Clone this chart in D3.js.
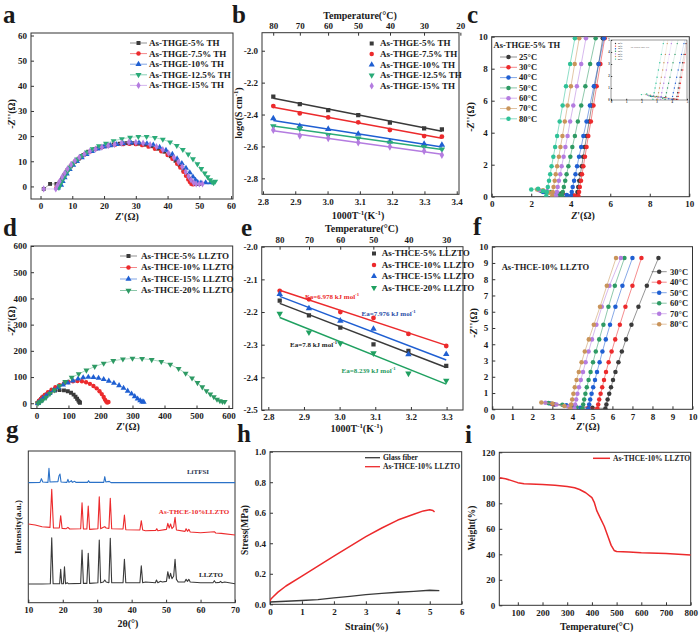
<!DOCTYPE html>
<html><head><meta charset="utf-8">
<script src="https://cdn.jsdelivr.net/npm/d3@7"></script>
<style>body{margin:0;background:#fff;}</style>
</head><body><svg id="chart" width="700" height="634"></svg>
<script>
const FONT='"Liberation Serif","Times New Roman","DejaVu Serif",serif';
const TXT='#1a1a1a';
// ---------- DATA ----------
// panel a
const aNames=['As-THGE-5% TH','As-THGE-7.5% TH','As-THGE-10% TH','As-THGE-12.5% TH','As-THGE-15% TH'];
const a5=[[1,-1],[3,1],[5,1],[5.5,0],[6,1.5],[6.8,3],[7.5,4.5],[8.5,6.5],[9.5,8],[10.8,9.8],[12,11],[13.5,12.5],[15,13.8],[17,14.8],[19,15.5],[21,16.2],[23,16.7],[25,17],[27,17.2],[29,17.2],[31,17],[33,16.6],[35,16],[37,15],[39,13.8],[41,12],[42.5,10.2],[43.8,8.5],[45,6.5],[46,4.5],[46.8,3],[47.5,1.8],[48.2,1],[49,1],[50,1]];
const a75=[[5,-0.5],[5.5,0.5],[6.2,2],[7,3.5],[7.8,5],[8.7,6.8],[9.8,8.5],[11,10],[12.5,11.5],[14,12.8],[15.8,14],[17.5,15],[19.5,15.7],[21.5,16.3],[23.5,16.6],[26,16.8],[28,16.9],[30,16.8],[32,16.4],[34,15.8],[36,15],[38,14],[40,12.5],[41.5,11],[43,9],[44,7.5],[45,5.8],[45.8,4.2],[46.5,2.8],[47,1.8],[47.5,1],[48,0.8]];
const a10=[[5.5,-0.5],[6.5,0.5],[7,2],[7.6,3.5],[8.3,5],[9.2,6.8],[10.3,8.5],[11.5,10],[13,11.5],[14.5,12.8],[16.2,14],[18,15],[20,15.8],[22,16.3],[24,16.7],[26,17],[28.5,17.3],[31,17.3],[33.5,17],[35.5,16.5],[37.5,15.6],[39.5,14.4],[41.5,12.8],[43,11],[44.5,9.2],[45.8,7.3],[47,5.5],[48,3.8],[48.8,2.5],[49.5,1.6],[50.5,1.4],[52,1.5],[53.5,1.5]];
const a125=[[5.8,-0.5],[6.3,1],[6.9,2.5],[7.6,4],[8.4,5.8],[9.3,7.5],[10.4,9.2],[11.6,10.8],[13,12.2],[14.6,13.6],[16.4,14.9],[18.4,16.1],[20.6,17.1],[23,18.1],[25.6,18.9],[28.2,19.5],[30.8,19.8],[33.4,19.8],[36,19.4],[38.5,18.7],[40.8,17.6],[42.9,16.2],[44.8,14.6],[46.5,12.8],[48,10.9],[49.4,8.9],[50.6,7],[51.7,5.3],[52.6,3.8],[53.4,2.6],[54,1.8],[54.5,1.4],[55,2]];
const a15=[[1,-1],[4.8,-1],[5.3,0.5],[6,2],[6.8,3.7],[7.6,5.3],[8.5,7],[9.6,8.7],[10.8,10.2],[12.2,11.6],[13.8,12.8],[15.5,13.9],[17.3,14.8],[19.3,15.6],[21.3,16.2],[23.3,16.7],[25.5,17.2],[27.8,17.6],[30,17.5],[32.3,17.2],[34.5,16.6],[36.5,15.8],[38.5,14.6],[40.3,13.2],[42,11.5],[43.4,9.7],[44.6,7.8],[45.7,5.8],[46.6,4],[47.4,2.6],[48.2,1.5],[49,1],[50,1],[51,1]];
// panel b
const bTempTicks=[80,70,60,50,40,30,20];
const bInvT=[2.832,2.914,3.002,3.095,3.193,3.299,3.354];
const b5=[-2.288,-2.334,-2.372,-2.403,-2.451,-2.487,-2.493];
const b75=[-2.347,-2.393,-2.418,-2.449,-2.497,-2.535,-2.539];
const b10=[-2.424,-2.472,-2.491,-2.522,-2.570,-2.585,-2.591];
const b125=[-2.472,-2.487,-2.529,-2.549,-2.576,-2.602,-2.618];
const b15=[-2.497,-2.533,-2.549,-2.576,-2.602,-2.629,-2.654];
// panel c
const cNames=['25°C','30°C','40°C','50°C','60°C','70°C','80°C'];
const cY=[0.05,0.3,0.6,1.0,1.4,1.9,2.5,3.1,3.8,4.7,5.7,6.9,8.3,9.9];
const cX25=[4.31,4.34,4.38,4.43,4.49,4.55,4.63,4.71,4.81,4.93,5.06,5.22,5.41,5.62];
const cX30=[4.39,4.42,4.46,4.52,4.57,4.64,4.72,4.80,4.89,5.02,5.15,5.31,5.50,5.72];
const cX40=[4.01,4.05,4.10,4.17,4.24,4.32,4.42,4.53,4.64,4.80,4.97,5.17,5.41,5.68];
const cX50=[3.56,3.60,3.65,3.72,3.79,3.88,3.98,4.08,4.21,4.36,4.53,4.74,4.98,5.26];
const cX60=[3.26,3.30,3.34,3.40,3.47,3.54,3.64,3.73,3.84,3.97,4.13,4.31,4.53,4.77];
const cX70=[3.06,3.09,3.13,3.19,3.24,3.31,3.40,3.48,3.58,3.70,3.84,4.01,4.20,4.43];
const cX80=[2.76,2.79,2.84,2.90,2.96,3.03,3.12,3.21,3.31,3.44,3.59,3.76,3.97,4.21];
const cB25=[[2.7,0.3],[3.5,0.2],[4.1,0.08]];
const cB30=[[2.8,0.3],[3.6,0.2],[4.2,0.08]];
const cB40=[[2.6,0.3],[3.3,0.25],[3.8,0.1]];
const cB50=[[2.5,0.35],[3.0,0.3],[3.4,0.15]];
const cB60=[[2.4,0.4],[2.8,0.35],[3.1,0.2]];
const cB70=[[2.3,0.45],[2.6,0.4],[2.9,0.25]];
const cB80=[[2.0,0.45],[2.35,0.5],[2.6,0.35]];
// panel d
const dNames=['As-THCE-5% LLZTO','As-THCE-10% LLZTO','As-THCE-15% LLZTO','As-THCE-20% LLZTO'];
const d5=[[3,0],[8,8],[14,16],[22,25],[32,34],[44,42],[58,48],[72,50],[86,49],[98,46],[108,40],[116,33],[122,25],[127,17],[131,10],[134,5],[136,2]];
const d10=[[4,3],[10,12],[17,22],[26,32],[36,42],[47,52],[59,61],[72,69],[86,76],[100,81],[114,84],[128,85],[142,84],[155,80],[167,74],[178,66],[188,57],[197,46],[204,35],[210,24],[214,14],[218,7],[221,3],[225,5]];
const d15=[[5,0],[12,8],[20,18],[30,28],[41,38],[54,49],[68,60],[83,70],[98,78],[114,86],[130,93],[146,98],[162,100],[178,99],[194,96],[210,91],[226,85],[242,77],[258,68],[272,58],[285,47],[297,36],[307,26],[316,17],[324,10],[330,6],[335,5]];
const d20=[[5,0],[12,5],[20,12],[30,22],[42,36],[56,50],[72,66],[90,82],[110,98],[132,112],[156,126],[182,140],[210,152],[240,162],[270,168],[300,171],[330,170],[360,166],[390,159],[418,148],[444,132],[466,114],[486,96],[503,78],[518,62],[531,47],[543,35],[554,24],[564,15],[573,9],[581,6],[588,6]];
// panel e
const eTempTicks=[80,70,60,50,40,30];
const eInvT=[2.832,2.914,3.002,3.095,3.193,3.299];
const e5=[-2.165,-2.21,-2.248,-2.299,-2.319,-2.365];
const e10=[-2.135,-2.161,-2.2,-2.218,-2.267,-2.304];
const e15=[-2.145,-2.189,-2.227,-2.252,-2.33,-2.329];
const e20=[-2.205,-2.262,-2.296,-2.326,-2.388,-2.41];
const eEa=['6.978','7.976','7.8','8.239'];
// panel f
const fNames=['30°C','40°C','50°C','60°C','70°C','80°C'];
const fY=[0.05,0.3,0.6,0.95,1.35,1.8,2.3,2.9,3.55,4.3,5.2,6.3,7.6,9.3];
const fX30=[5.65,5.70,5.76,5.84,5.93,6.03,6.15,6.30,6.47,6.68,6.95,7.30,7.72,8.30];
const fX40=[5.25,5.29,5.34,5.41,5.49,5.58,5.68,5.81,5.96,6.14,6.37,6.65,7.00,7.45];
const fX50=[4.80,4.84,4.89,4.96,5.04,5.13,5.23,5.36,5.50,5.67,5.88,6.15,6.50,7.00];
const fX60=[4.50,4.54,4.59,4.65,4.72,4.81,4.91,5.03,5.17,5.34,5.55,5.80,6.12,6.60];
const fX70=[4.10,4.14,4.19,4.25,4.33,4.42,4.53,4.66,4.81,4.98,5.20,5.47,5.85,6.42];
const fX80=[3.90,3.94,3.99,4.05,4.12,4.21,4.32,4.46,4.62,4.82,5.07,5.38,5.72,6.18];
const fB30=[[3.1,0.3],[4.0,0.22],[5.0,0.1]];
const fB40=[[3.0,0.32],[3.9,0.22],[4.8,0.1]];
const fB50=[[2.9,0.35],[3.7,0.25],[4.4,0.1]];
const fB60=[[2.8,0.38],[3.5,0.28],[4.2,0.12]];
const fB70=[[2.65,0.4],[3.2,0.3],[3.8,0.15]];
const fB80=[[2.45,0.42],[3.0,0.35],[3.6,0.2]];
// panel g (2θ, intensity a.u.)
const gLLZTO=[[10,56],[14,56],[16.4,57],[16.8,195],[17.2,57],[19.1,57],[19.4,100],[19.7,57],[20.2,57],[20.5,108],[20.8,57],[21.3,60],[21.6,57],[25.2,58],[25.6,158],[26,58],[27,58],[27.4,148],[27.8,58],[30.2,60],[30.6,188],[31,60],[31.8,62],[32.2,68],[32.6,62],[33.4,60],[33.8,193],[34.2,60],[37.5,60],[37.9,130],[38.3,60],[42.4,60],[42.8,111],[43.2,60],[44,62],[46.9,60],[47.2,68],[47.6,60],[48.4,64],[48.9,62],[50.1,64],[50.5,93],[50.9,72],[51.3,88],[51.7,72],[52.2,80],[52.6,130],[53,70],[53.5,62],[55.4,62],[55.8,70],[56.2,64],[56.6,70],[57,62],[60,60],[63.6,60],[64,66],[64.4,60],[65.5,61],[65.8,64],[66.2,60],[67,62],[70,57]];
const gTHCE=[[10,236],[12,233],[14,228],[16.3,226],[16.8,340],[17.3,224],[19,224],[19.4,261],[19.8,223],[21,222],[21.5,226],[22,221],[25.2,222],[25.6,300],[26,221],[27,221],[27.4,290],[27.8,220],[30.2,222],[30.6,318],[31,222],[31.8,226],[32.2,228],[32.6,224],[33.4,223],[33.8,313],[34.2,222],[37.5,221],[37.9,263],[38.3,219],[42.4,218],[42.8,246],[43.2,218],[44,216],[47,217],[47.3,222],[47.6,216],[50.1,220],[50.5,238],[50.9,224],[51.3,236],[51.7,222],[52.2,228],[52.6,256],[53,218],[55.5,214],[55.8,222],[56.2,214],[56.6,220],[57,212],[60,210],[64,213],[64.4,209],[66,208],[70,203]];
const gLiTFSI=[[10,360],[13.4,361],[13.8,372],[14.2,362],[15.7,361],[16.0,403],[16.3,362],[18.6,363],[18.9,380],[19.2,386],[19.5,362],[21.2,361],[21.5,370],[21.8,361],[22.5,366],[22.8,361],[23.5,364],[23.8,361],[27.2,361],[27.5,366],[27.8,361],[31.9,361],[32.2,378],[32.5,362],[33.5,364],[34,360],[70,360]];
// panel h
const hGFx=[0,0.5,1,1.5,2,2.5,3,3.5,4,4.5,5,5.3];
const hGFy=[0.015,0.02,0.025,0.03,0.042,0.052,0.063,0.072,0.079,0.085,0.092,0.09];
const hTHx=[0,0.03,0.1,0.25,0.5,1,1.5,2,2.5,3,3.5,4,4.5,4.8,5,5.1,5.15];
const hTHy=[0.02,0.035,0.05,0.08,0.12,0.185,0.25,0.315,0.38,0.443,0.5,0.552,0.59,0.612,0.62,0.615,0.605];
// panel i
const iT=[25,50,75,100,125,150,200,250,300,330,350,375,400,410,420,435,450,465,478,490,500,550,600,700,800];
const iW=[100,99.2,97.8,96.2,95.4,95.1,94.7,94.2,93.2,92.2,90.8,88.3,84.5,80.5,74,68,62,54,47,43,42.2,41.8,41.2,40.6,39.5];

// ---------- COLORS ----------
const K='#3a3a3a',R='#ec2a2c',B='#1f5fd2',G='#2aab78',P='#b47ce0',TAN='#c9945a',TEAL='#2fc197',G2='#2e9a64';

// ---------- HELPERS ----------
const svg=d3.select('#chart');
let clipN=0;
const SYM={sq:d3.symbolSquare,ci:d3.symbolCircle,tu:d3.symbolTriangle,td:d3.symbolTriangle,di:d3.symbolDiamond};
const fmt=dec=>d=>(d<0?'-':'')+Math.abs(d).toFixed(dec);
function panel(o){
  const x=d3.scaleLinear().domain(o.xd).range([o.l,o.r]);
  const y=d3.scaleLinear().domain(o.yd).range([o.b,o.t]);
  const g=svg.append('g');
  const id='clip'+(clipN++);
  g.append('clipPath').attr('id',id).append('rect').attr('x',o.l).attr('y',o.t).attr('width',o.r-o.l).attr('height',o.b-o.t);
  if(o.bg) g.append('rect').attr('x',o.l).attr('y',o.t).attr('width',o.r-o.l).attr('height',o.b-o.t).attr('fill','#fff');
  const fs=o.fs||9, ts=o.ts||3, tp=o.tp||4;
  g.append('g').attr('transform',`translate(0,${o.b})`).call(d3.axisBottom(x).tickValues(o.xt).tickFormat(o.xf||(d=>d)).tickSizeInner(-ts).tickSizeOuter(0).tickPadding(tp));
  if(o.yt) g.append('g').attr('transform',`translate(${o.l},0)`).call(d3.axisLeft(y).tickValues(o.yt).tickFormat(o.yf||(d=>d)).tickSizeInner(-ts).tickSizeOuter(0).tickPadding(tp));
  if(o.top) g.append('g').attr('transform',`translate(0,${o.t})`).call(d3.axisTop(x).tickValues(o.top.map(t=>1000/(t+273.15))).tickFormat((d,i)=>o.top[i]).tickSizeInner(-ts).tickSizeOuter(0).tickPadding(tp));
  g.selectAll('.domain').remove();
  g.selectAll('.tick line').attr('stroke','#333');
  g.selectAll('.tick text').attr('font-size',fs).attr('font-weight','bold').attr('fill',TXT).attr('font-family',FONT);
  g.append('rect').attr('x',o.l).attr('y',o.t).attr('width',o.r-o.l).attr('height',o.b-o.t).attr('fill','none').attr('stroke','#333').attr('stroke-width',o.sw||1);
  const plot=g.append('g').attr('clip-path',`url(#${id})`);
  return {g,x,y,plot};
}
function text(sel,x,y,parts,o={}){
  const fs=o.fs||9;
  const t=sel.append('text').attr('x',x).attr('y',y).attr('font-size',fs).attr('font-weight',o.w||'bold')
    .attr('fill',o.c||TXT).attr('text-anchor',o.a||'start').attr('font-family',FONT);
  if(o.rot) t.attr('transform',`rotate(-90,${x},${y})`);
  let up=false;
  (typeof parts==='string'?[[parts]]:parts).forEach(p=>{
    const s=t.append('tspan').text(p[0]);
    if(p[1]==='i') s.attr('font-style','italic');
    if(p[1]==='sup'){s.attr('font-size',fs*0.68).attr('dy',-fs*0.38);up=true;}
    else if(up){s.attr('dy',fs*0.38);up=false;}
  });
  return t;
}
function sym(type,size){return d3.symbol(SYM[type],size)();}
function pts(p,data,type,color,size,lineOp,lw){
  if(lineOp) p.plot.append('path').datum(data).attr('d',d3.line().x(d=>p.x(d[0])).y(d=>p.y(d[1])))
    .attr('fill','none').attr('stroke',color).attr('stroke-width',lw||0.8).attr('stroke-opacity',lineOp);
  p.plot.selectAll(null).data(data).join('path').attr('d',sym(type,size))
    .attr('transform',d=>`translate(${p.x(d[0])},${p.y(d[1])})`+(type==='td'?' rotate(180)':'')).attr('fill',color);
}
function curve(p,data,color,lw){
  p.plot.append('path').datum(data).attr('d',d3.line().x(d=>p.x(d[0])).y(d=>p.y(d[1])))
    .attr('fill','none').attr('stroke',color).attr('stroke-width',lw||1.2).attr('stroke-linejoin','round');
}
function fitLine(p,xs,ys,color){
  const mx=d3.mean(xs),my=d3.mean(ys);
  const s=d3.sum(xs.map((v,i)=>(v-mx)*(ys[i]-my)))/d3.sum(xs.map(v=>(v-mx)*(v-mx)));
  const x0=d3.min(xs),x1=d3.max(xs);
  p.plot.append('line').attr('x1',p.x(x0)).attr('x2',p.x(x1)).attr('y1',p.y(my+s*(x0-mx))).attr('y2',p.y(my+s*(x1-mx)))
    .attr('stroke',color).attr('stroke-width',1.5);
}
function legend(g,items,o){
  items.forEach((it,i)=>{
    const yy=o.y0+i*o.dy;
    if(o.line) g.append('line').attr('x1',o.x0).attr('x2',o.x1).attr('y1',yy).attr('y2',yy).attr('stroke',it.c).attr('stroke-width',o.lw||0.8).attr('stroke-opacity',o.lo||0.7);
    if(it.t) g.append('path').attr('d',sym(it.t,o.ms||16)).attr('transform',`translate(${(o.x0+o.x1)/2},${yy})`+(it.t==='td'?' rotate(180)':'')).attr('fill',it.c);
    text(g,o.tx,yy+o.fs*0.33,it.label,{fs:o.fs});
  });
}
const zy=[['-'],['Z','i'],["''(Ω)"]], zx=[['Z','i'],["'(Ω)"]];
const invT=[['1000T'],['-1','sup'],['(K'],['-1','sup'],[')']];
function plabel(s,x,y){text(svg,x,y,s,{fs:25});}

// ---------- PANEL a ----------
{
  const p=panel({l:31,r:233,t:33,b:199,xd:[-3,60.6],yd:[-5,61],xt:d3.range(0,61,10),yt:d3.range(0,61,10)});
  const S=[[a5,'sq',K],[a75,'ci',R],[a10,'tu',B],[a125,'td',G],[a15,'di',P]];
  S.forEach(s=>pts(p,s[0],s[1],s[2],15,0.5));
  legend(p.g,S.map((s,i)=>({t:s[1],c:s[2],label:aNames[i]})),{x0:130,x1:147,tx:149,y0:43,dy:10.6,fs:9,ms:16,line:true});
  text(svg,14.5,114,zy,{fs:10,a:'middle',rot:true});
  text(svg,127,220,zx,{fs:10,a:'middle'});
  plabel('a',3,23);
}
// ---------- PANEL b ----------
{
  const p=panel({l:262,r:459,t:32.7,b:194.3,xd:[2.797,3.407],yd:[-2.9,-1.887],xt:[2.8,2.9,3.0,3.1,3.2,3.3,3.4],xf:fmt(1),yt:[-2.0,-2.2,-2.4,-2.6,-2.8],yf:fmt(1),top:bTempTicks});
  const S=[[b5,'sq',K],[b75,'ci',R],[b10,'tu',B],[b125,'td',G],[b15,'di',P]];
  S.forEach(s=>{fitLine(p,bInvT,s[0],s[2]);pts(p,bInvT.map((v,i)=>[v,s[0][i]]),s[1],s[2],18);});
  legend(p.g,S.map((s,i)=>({t:s[1],c:s[2],label:aNames[i]})),{x0:371.7,x1:371.7,tx:380,y0:43.5,dy:10.6,fs:9,ms:16});
  text(svg,360,19,'Temperature(°C)',{fs:10,a:'middle'});
  text(svg,358,219,invT,{fs:10,a:'middle'});
  text(svg,241.5,113,[['logσ(S cm'],['-1','sup'],[')']],{fs:10,a:'middle',rot:true});
  plabel('b',232,23);
}
// ---------- PANEL c ----------
{
  const p=panel({l:491.7,r:689.3,t:36.7,b:196.7,xd:[0,10],yd:[0,10],xt:d3.range(0,11,2),yt:d3.range(0,11,2)});
  const X=[cX25,cX30,cX40,cX50,cX60,cX70,cX80], BB=[cB25,cB30,cB40,cB50,cB60,cB70,cB80], C=[K,R,B,G2,P,TAN,TEAL];
  const series=X.map((xs,i)=>BB[i].concat(xs.map((v,j)=>[v,cY[j]])));
  series.forEach((s,i)=>pts(p,s,'ci',C[i],16,0.6,0.9));
  text(p.g,493.5,48,'As-THGE-5% TH',{fs:8.5});
  legend(p.g,cNames.map((n,i)=>({t:'ci',c:C[i],label:n})),{x0:500,x1:517,tx:519,y0:57,dy:10.3,fs:8.5,ms:16,line:true});
  // inset
  const q=panel({l:611,r:687,t:40,b:100,xd:[0,5],yd:[0,5],xt:d3.range(0,6,1),yt:d3.range(0,6,1),fs:3,ts:1.2,tp:1.2,bg:true,sw:0.5});
  series.forEach((s,i)=>pts(q,s,'ci',C[i],1.5,0.4,0.4));
  text(q.g,630,48,'As-THGE-5% TH',{fs:2.6,w:'normal'});
  legend(q.g,cNames.map((n,i)=>({t:'ci',c:C[i],label:n})),{x0:614,x1:617,tx:618,y0:43.5,dy:2.6,fs:2.2,ms:1.5});
  text(svg,473.5,117,zy,{fs:10,a:'middle',rot:true});
  text(svg,583,219,zx,{fs:10,a:'middle'});
  plabel('c',467,22.5);
}
// ---------- PANEL d ----------
{
  const p=panel({l:31,r:232.7,t:246,b:408.5,xd:[-17,613],yd:[-20,600],xt:d3.range(0,601,100),yt:d3.range(0,601,100)});
  const S=[[d5,'sq',K],[d10,'ci',R],[d15,'tu',B],[d20,'td',G2]];
  S.forEach(s=>pts(p,s[0],s[1],s[2],15,0.5));
  legend(p.g,S.map((s,i)=>({t:s[1],c:s[2],label:dNames[i]})),{x0:120,x1:137,tx:141,y0:256,dy:11.5,fs:9,ms:16,line:true});
  text(svg,14.5,321,zy,{fs:10,a:'middle',rot:true});
  text(svg,128,430,zx,{fs:10,a:'middle'});
  plabel('d',3,235.5);
}
// ---------- PANEL e ----------
{
  const p=panel({l:261.7,r:463,t:246.7,b:410,xd:[2.7815,3.346],yd:[-2.5,-2.0],xt:[2.8,2.9,3.0,3.1,3.2,3.3],xf:fmt(1),yt:[-2.0,-2.1,-2.2,-2.3,-2.4,-2.5],yf:fmt(1),top:eTempTicks});
  const S=[[e5,'sq',K],[e10,'ci',R],[e15,'tu',B],[e20,'td','#1fa060']];
  S.forEach(s=>{fitLine(p,eInvT,s[0],s[2]);pts(p,eInvT.map((v,i)=>[v,s[0][i]]),s[1],s[2],18);});
  legend(p.g,S.map((s,i)=>({t:s[1],c:s[2],label:dNames[i]})),{x0:374,x1:374,tx:381.7,y0:253.5,dy:11.4,fs:9,ms:16});
  const ea=(v)=>[['Ea='+v+' kJ mol'],['-1','sup']];
  text(svg,305,299,ea(eEa[0]),{fs:7,c:R});
  text(svg,361.5,315.5,ea(eEa[1]),{fs:7,c:'#2a4fa8'});
  text(svg,290,346.5,ea(eEa[2]),{fs:7,c:'#222'});
  text(svg,341.5,372.5,ea(eEa[3]),{fs:7,c:'#1f9a60'});
  text(svg,361.7,232,'Temperature(°C)',{fs:10,a:'middle'});
  text(svg,356.7,432,invT,{fs:10,a:'middle'});
  plabel('e',241,236);
}
// ---------- PANEL f ----------
{
  const p=panel({l:492.3,r:692.5,t:246.7,b:409.3,xd:[0,10],yd:[0,10],xt:d3.range(0,11,1),yt:d3.range(0,11,1)});
  const X=[fX30,fX40,fX50,fX60,fX70,fX80], BB=[fB30,fB40,fB50,fB60,fB70,fB80], C=[K,R,B,G2,P,TAN];
  X.forEach((xs,i)=>pts(p,BB[i].concat(xs.map((v,j)=>[v,fY[j]])),'ci',C[i],16,0.6,0.9));
  text(p.g,501.7,269.5,'As-THCE-10% LLZTO',{fs:8.5});
  legend(p.g,fNames.map((n,i)=>({t:'ci',c:C[i],label:n})),{x0:651.7,x1:666.7,tx:670,y0:271.7,dy:10.5,fs:8.5,ms:16,line:true});
  text(svg,477,323,zy,{fs:10,a:'middle',rot:true});
  text(svg,588,430,zx,{fs:10,a:'middle'});
  plabel('f',473,234.5);
}
// ---------- PANEL g ----------
{
  const p=panel({l:28.3,r:235,t:451,b:602.7,xd:[10,70],yd:[0,455],xt:d3.range(10,71,10)});
  curve(p,gLLZTO,K,1.1); curve(p,gTHCE,R,1.1); curve(p,gLiTFSI,'#2b72c8',1.1);
  text(p.g,198,474,'LiTFSI',{fs:7,a:'middle',c:'#2a3550'});
  text(p.g,194,514,'As-THCE-10%LLZTO',{fs:7,a:'middle',c:R});
  text(p.g,211,577,'LLZTO',{fs:7,a:'middle',c:'#222'});
  text(svg,21,527,'Intensity(a.u.)',{fs:9,a:'middle',rot:true});
  text(svg,128,627,[['2θ(°)']],{fs:10,a:'middle'});
  plabel('g',6,438);
}
// ---------- PANEL h ----------
{
  const p=panel({l:270,r:461.7,t:451.7,b:604.3,xd:[0,6],yd:[0,1],xt:d3.range(0,7,1),yt:[0,0.2,0.4,0.6,0.8,1.0],yf:fmt(1)});
  curve(p,hGFx.map((v,i)=>[v,hGFy[i]]),K,1.3);
  curve(p,hTHx.map((v,i)=>[v,hTHy[i]]),R,1.5);
  legend(p.g,[{c:K,label:'Glass fiber'},{c:R,label:'As-THCE-10% LLZTO'}],{x0:365,x1:380,tx:383,y0:457.7,dy:9,fs:7.5,line:true,lw:1.3,lo:1});
  text(svg,248,530,'Stress(MPa)',{fs:9.5,a:'middle',rot:true});
  text(svg,366.7,630,'Strain(%)',{fs:10,a:'middle'});
  plabel('h',237,442);
}
// ---------- PANEL i ----------
{
  const p=panel({l:499.3,r:690.7,t:452.3,b:605.3,xd:[25,800],yd:[0,120],xt:d3.range(100,801,100),yt:d3.range(0,121,20)});
  curve(p,iT.map((v,i)=>[v,iW[i]]),R,1.5);
  legend(p.g,[{c:R,label:'As-THCE-10% LLZTO'}],{x0:593,x1:610,tx:613,y0:458.3,dy:9,fs:7.5,line:true,lw:1.5,lo:1});
  text(svg,475,528,'Weight(%)',{fs:9.5,a:'middle',rot:true});
  text(svg,596.7,630,'Temperature(°C)',{fs:10,a:'middle'});
  plabel('i',465,443);
}
</script></body></html>
